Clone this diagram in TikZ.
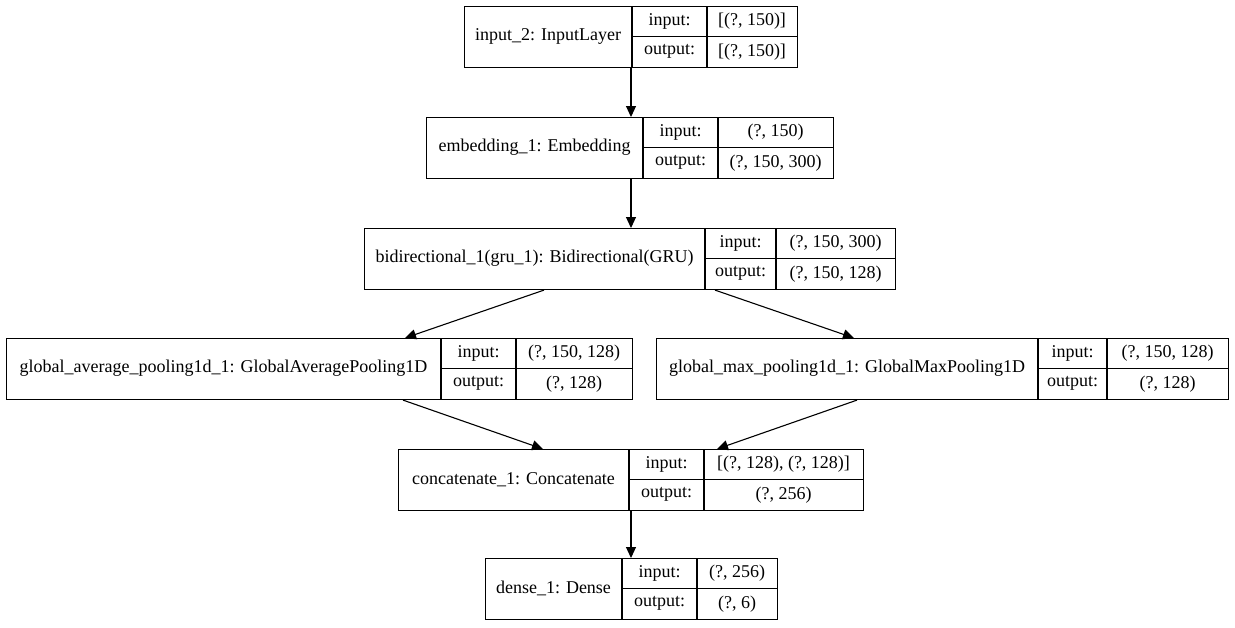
\documentclass[tikz,border=0pt]{standalone}
\usepackage{fontspec}
\setmainfont{Liberation Serif}
\usetikzlibrary{arrows.meta}
\tikzset{
  box/.style={draw, line width=1.1pt, rectangle, inner sep=0pt, anchor=north west},
  cell/.style={line width=1.1pt},
  txt/.style={font=\fontsize{18}{20}\selectfont, inner sep=0pt},
  arr/.style={draw, line width=1.1pt, -{Triangle[length=11pt,width=10pt]}},
}
% \layer{name}{left}{divider 1}{divider 2}{right}{top}{label}{input}{output}
\newcommand\layer[9]{%
  \node[box, minimum width={#5-#2}, minimum height=61] (#1) at (#2,#6) {};
  \draw[cell] (#3,#6) -- (#3,{#6+61});
  \draw[cell] (#4,#6) -- (#4,{#6+61});
  \draw[cell] (#3,{#6+30.5}) -- (#5,{#6+30.5});
  \node[txt] (#1-name) at ({(#2+#3)/2},{#6+30.5}) {#7};
  \node[txt] (#1-inl)  at ({(#3+#4)/2},{#6+15.25}) {input:};
  \node[txt] (#1-outl) at ({(#3+#4)/2},{#6+45.75}) {output:};
  \node[txt] (#1-in)   at ({(#4+#5)/2},{#6+15.25}) {#8};
  \node[txt] (#1-out)  at ({(#4+#5)/2},{#6+45.75}) {#9};
}
\begin{document}
\begin{tikzpicture}[x=1pt, y=-1pt]
  \useasboundingbox (0,0) rectangle (1235,627);

  \layer{inp}{464}{632}{707}{797}{6}{input\_2: InputLayer}{[(?, 150)]}{[(?, 150)]}
  \layer{emb}{426}{643}{718}{833}{117}{embedding\_1: Embedding}{(?, 150)}{(?, 150, 300)}
  \layer{bid}{364}{705}{776}{895}{228}{bidirectional\_1(gru\_1): Bidirectional(GRU)}{(?, 150, 300)}{(?, 150, 128)}
  \layer{avg}{6}{441}{516}{632}{338}{global\_average\_pooling1d\_1: GlobalAveragePooling1D}{(?, 150, 128)}{(?, 128)}
  \layer{max}{656}{1038}{1107}{1228}{338}{global\_max\_pooling1d\_1: GlobalMaxPooling1D}{(?, 150, 128)}{(?, 128)}
  \layer{cat}{398}{629}{704}{863}{449}{concatenate\_1: Concatenate}{[(?, 128), (?, 128)]}{(?, 256)}
  \layer{den}{485}{622}{697}{777}{558}{dense\_1: Dense}{(?, 256)}{(?, 6)}

  % connectors between layers
  \draw[arr] ([xshift=167pt]inp.south west) -- ([xshift=205pt]emb.north west);
  \draw[arr] ([xshift=205pt]emb.south west) -- ([xshift=267pt]bid.north west);
  \draw[arr] ([xshift=180pt]bid.south west) -- ([xshift=399pt]avg.north west);
  \draw[arr] ([xshift=351pt]bid.south west) -- ([xshift=198pt]max.north west);
  \draw[arr] ([xshift=397pt]avg.south west) -- ([xshift=145pt]cat.north west);
  \draw[arr] ([xshift=201pt]max.south west) -- ([xshift=319pt]cat.north west);
  \draw[arr] ([xshift=233pt]cat.south west) -- ([xshift=146pt]den.north west);
\end{tikzpicture}
\end{document}
